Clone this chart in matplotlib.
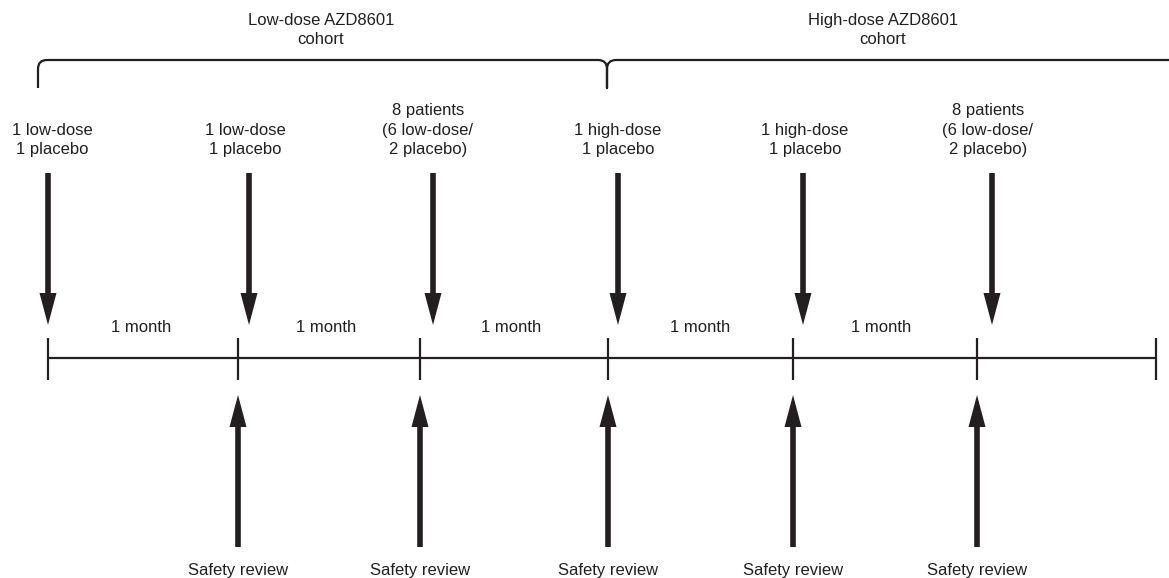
import matplotlib.pyplot as plt
from matplotlib.path import Path
from matplotlib.patches import PathPatch, Polygon

plt.rcParams['font.family'] = ['Liberation Sans', 'DejaVu Sans']

INK = '#231f20'

# timeline (diagram x positions, pixel units)
tick_x = [48, 238, 420, 608, 793, 977, 1156]
dose_x = [48, 249, 433, 618, 803, 992]
dose_labels = ['1 low-dose\n1 placebo', '1 low-dose\n1 placebo',
               '8 patients\n(6 low-dose/\n2 placebo)',
               '1 high-dose\n1 placebo', '1 high-dose\n1 placebo',
               '8 patients\n(6 low-dose/\n2 placebo)']
label_x = [52, 245, 428, 618, 805, 988]
month_x = [141, 326, 511, 700, 881]
month_labels = ['1 month'] * 5
review_x = [238, 420, 608, 793, 977]
review_labels = ['Safety review'] * 5
cohorts = ['Low-dose AZD8601\ncohort', 'High-dose AZD8601\ncohort']
cohort_x = [321, 883]

fig = plt.figure(figsize=(11.69, 5.78), dpi=100)
ax = fig.add_axes([0, 0, 1, 1])
ax.set_xlim(0, 1169)
ax.set_ylim(578, 0)
ax.axis('off')

LS = 1.38


def arrow(x, y0, y1, head=32, hw=8.5, w=2.8):
    # shaft from y0 to y1, head at y1
    d = 1 if y1 > y0 else -1
    yb = y1 - d * head
    pts = [(x - w, y0), (x + w, y0), (x + w, yb), (x + hw, yb),
           (x, y1), (x - hw, yb), (x - w, yb)]
    ax.add_patch(Polygon(pts, closed=True, color=INK, lw=0))


# timeline
ax.plot([tick_x[0], tick_x[-1]], [358, 358], color=INK, lw=1.6,
        solid_capstyle='butt')
for x in tick_x:
    ax.plot([x, x], [338, 380], color=INK, lw=1.6, solid_capstyle='butt')

# dosing arrows
for x, lx, lab in zip(dose_x, label_x, dose_labels):
    arrow(x, 173, 325)
    n = lab.count('\n') + 1
    ax.text(lx, 150 - (n - 1) * 9.8, lab, ha='center', va='center',
            fontsize=12, color=INK, linespacing=LS)

for x, lab in zip(month_x, month_labels):
    ax.text(x, 328, lab, ha='center', va='center', fontsize=12, color=INK)

# safety review arrows
for x, lab in zip(review_x, review_labels):
    arrow(x, 547, 395)
    ax.text(x, 570, lab, ha='center', va='center', fontsize=12, color=INK)

# cohort bracket
r = 9
mid = 607
verts = [(38, 88), (38, 60 + r), (38, 60), (38 + r, 60), (mid - r, 60),
         (mid, 60), (mid, 60 + r), (mid, 88), (mid, 60 + r), (mid, 60),
         (mid + r, 60), (1169, 60)]
codes = [Path.MOVETO, Path.LINETO, Path.CURVE3, Path.CURVE3, Path.LINETO,
         Path.CURVE3, Path.CURVE3, Path.LINETO, Path.LINETO, Path.CURVE3,
         Path.CURVE3, Path.LINETO]
ax.add_patch(PathPatch(Path(verts, codes), fill=False, edgecolor=INK,
                       lw=1.6, capstyle='butt', joinstyle='round'))

for x, lab in zip(cohort_x, cohorts):
    ax.text(x, 30, lab, ha='center', va='center', fontsize=12, color=INK,
            linespacing=LS)

fig.savefig('out.png', dpi=100)
